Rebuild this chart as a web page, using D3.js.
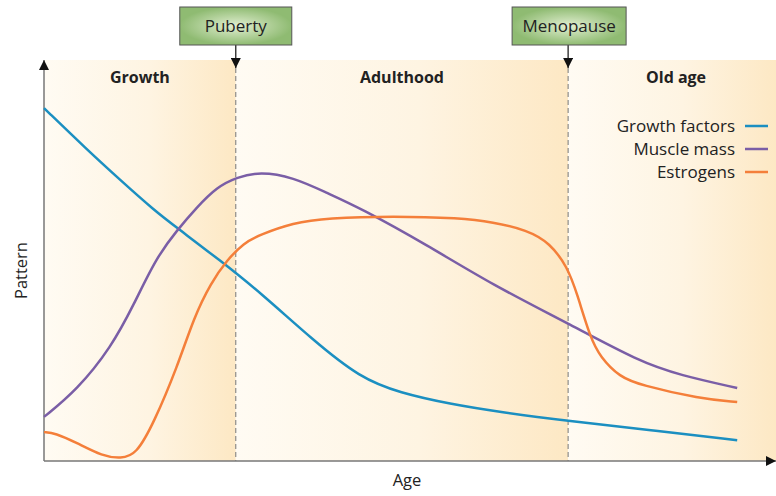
<!DOCTYPE html>
<html>
<head>
<meta charset="utf-8">
<script src="https://cdn.jsdelivr.net/npm/d3@7"></script>
<style>
  body { margin: 0; background: #fff; }
  text { font-family: "Open Sans", "Liberation Sans", sans-serif; fill: #222; }
</style>
</head>
<body>
<div id="chart"></div>
<script>
// stages along the age axis (0-100)
const stages = [
    { name: "Growth", from: 0, to: 26.2 },
    { name: "Adulthood", from: 26.2, to: 71.6 },
    { name: "Old age", from: 71.6, to: 100 }
];
const events = [
    { name: "Puberty", at: 26.2 },
    { name: "Menopause", at: 71.6 }
];

const growthAge = [0, 5.9, 10.4, 15.0, 18.2, 24.0, 29.5, 36.7, 43.2, 48.6, 55.5, 62.3, 71.6, 82.8, 94.7];
const growthVal = [88.0, 77.6, 70.1, 62.6, 58.1, 50.1, 42.1, 30.2, 20.7, 17.0, 14.2, 12.2, 10.0, 7.7, 5.2];

const muscleAge = [0, 4.5, 9.2, 12.3, 15.3, 18.2, 20.9, 23.6, 26.4, 29.5, 34.0, 38.7, 43.2, 52.3, 61.3, 71.5, 81.4, 86.9, 94.7];
const muscleVal = [11.0, 17.7, 28.4, 39.1, 50.6, 57.6, 63.3, 68.3, 70.8, 72.1, 70.8, 66.8, 63.1, 53.9, 43.9, 34.4, 24.7, 21.4, 18.2];

const estroAge = [0, 1.5, 4.5, 8.0, 10.5, 12.6, 15.0, 18.2, 20.5, 22.8, 25.0, 27.3, 29.5, 34.0, 38.7, 47.7, 56.8, 61.3, 66.0, 69.1, 71.5, 72.8, 74.6, 76.0, 78.7, 81.4, 89.6, 94.7];
const estroVal = [7.2, 7.0, 4.5, 1.2, 0.6, 1.6, 9.5, 23.4, 35.9, 44.4, 50.1, 54.4, 56.4, 59.4, 60.6, 61.1, 60.6, 59.6, 57.6, 54.4, 48.4, 41.9, 30.9, 25.9, 20.9, 19.0, 15.5, 14.7];

const series = [
    { name: "Growth factors", color: "#1b8fc1", age: growthAge, val: growthVal },
    { name: "Muscle mass", color: "#7a5ea6", age: muscleAge, val: muscleVal },
    { name: "Estrogens", color: "#f47f3a", age: estroAge, val: estroVal }
];

const width = 776;
const height = 496;
const plotLeft = 44, plotRight = 776, plotTop = 60, plotBottom = 461;

const svg = d3.select("#chart")
    .append("svg")
    .attr("width", width)
    .attr("height", height);

const x = d3.scaleLinear().domain([0, 100]).range([plotLeft, plotRight]);
const y = d3.scaleLinear().domain([0, 100]).range([plotBottom, plotTop]);

const defs = svg.append("defs");

const band = defs.append("linearGradient").attr("id", "band");
band.append("stop").attr("offset", "0%").attr("stop-color", "#fffbf3");
band.append("stop").attr("offset", "55%").attr("stop-color", "#fef4e2");
band.append("stop").attr("offset", "100%").attr("stop-color", "#fde8c4");

const boxFill = defs.append("radialGradient").attr("id", "box");
boxFill.append("stop").attr("offset", "0%").attr("stop-color", "#e2efd2");
boxFill.append("stop").attr("offset", "100%").attr("stop-color", "#8fbb72");

defs.append("marker")
    .attr("id", "tri")
    .attr("viewBox", "0 0 10 10")
    .attr("refX", 10).attr("refY", 5)
    .attr("markerWidth", 10).attr("markerHeight", 10)
    .attr("markerUnits", "userSpaceOnUse")
    .attr("orient", "auto")
    .append("path")
    .attr("d", "M0,0 L10,5 L0,10 Z")
    .attr("fill", "#111");

// background stages
svg.selectAll(".stage")
    .data(stages)
    .enter()
    .append("rect")
    .attr("x", d => x(d.from))
    .attr("y", plotTop)
    .attr("width", d => x(d.to) - x(d.from))
    .attr("height", plotBottom - plotTop)
    .attr("fill", "url(#band)");

svg.selectAll(".stage-label")
    .data(stages)
    .enter()
    .append("text")
    .attr("x", d => (x(d.from) + x(d.to)) / 2 - (d.name === "Old age" ? -4 : 0))
    .attr("y", 83)
    .attr("text-anchor", "middle")
    .attr("font-size", 16)
    .attr("font-weight", "bold")
    .text(d => d.name);

// event markers
events.forEach(e => {
    const ex = x(e.at);
    svg.append("line")
        .attr("x1", ex).attr("x2", ex)
        .attr("y1", plotTop).attr("y2", plotBottom)
        .attr("stroke", "#777")
        .attr("stroke-width", 1)
        .attr("stroke-dasharray", "5,3");
    svg.append("line")
        .attr("x1", ex).attr("x2", ex)
        .attr("y1", 45).attr("y2", 68)
        .attr("stroke", "#111")
        .attr("stroke-width", 1.2)
        .attr("marker-end", "url(#tri)");
    const w = e.name.length > 7 ? 114 : 112;
    svg.append("rect")
        .attr("x", ex - 56).attr("y", 7)
        .attr("width", w).attr("height", 38)
        .attr("fill", "url(#box)")
        .attr("stroke", "#555")
        .attr("stroke-width", 1);
    svg.append("text")
        .attr("x", ex - 56 + w / 2)
        .attr("y", 32)
        .attr("text-anchor", "middle")
        .attr("font-size", 17)
        .text(e.name);
});

// axes with arrows
svg.append("line")
    .attr("x1", plotLeft).attr("x2", plotLeft)
    .attr("y1", plotBottom).attr("y2", plotTop)
    .attr("stroke", "#777").attr("stroke-width", 1.5)
    .attr("marker-end", "url(#tri)");
svg.append("line")
    .attr("x1", plotLeft).attr("x2", plotRight)
    .attr("y1", plotBottom).attr("y2", plotBottom)
    .attr("stroke", "#777").attr("stroke-width", 1.5)
    .attr("marker-end", "url(#tri)");

svg.append("text")
    .attr("transform", `translate(27, ${(plotTop + plotBottom) / 2 + 10}) rotate(-90)`)
    .attr("text-anchor", "middle")
    .attr("font-size", 16.5)
    .text("Pattern");
svg.append("text")
    .attr("x", 407).attr("y", 486)
    .attr("text-anchor", "middle")
    .attr("font-size", 16.5)
    .text("Age");

// curves (basis smoothing irons out reading noise)
const line = d3.line()
    .x(d => x(d[0]))
    .y(d => y(d[1]))
    .curve(d3.curveBasis);

svg.selectAll(".curve")
    .data(series)
    .enter()
    .append("path")
    .attr("d", d => line(d.age.map((a, i) => [a, d.val[i]])))
    .attr("fill", "none")
    .attr("stroke", d => d.color)
    .attr("stroke-width", 2.5);

// legend
const legend = svg.selectAll(".legend")
    .data(series)
    .enter()
    .append("g")
    .attr("transform", (d, i) => `translate(0, ${126 + i * 23})`);
legend.append("line")
    .attr("x1", 745).attr("x2", 768)
    .attr("stroke", d => d.color)
    .attr("stroke-width", 2.5);
legend.append("text")
    .attr("x", 735).attr("y", 6)
    .attr("text-anchor", "end")
    .attr("font-size", 17)
    .text(d => d.name);
</script>
</body>
</html>
